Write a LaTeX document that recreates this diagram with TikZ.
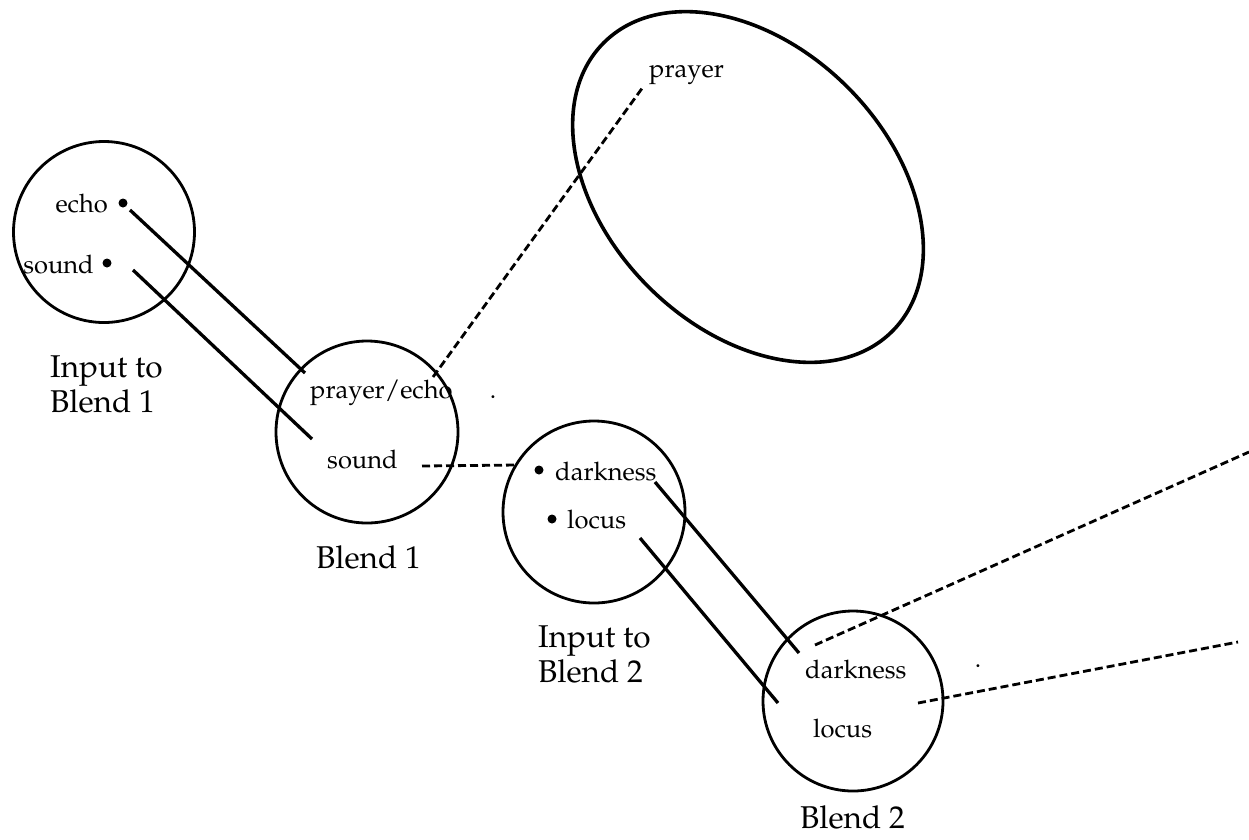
\documentclass[tikz,border=0pt]{standalone}
\usepackage[T1]{fontenc}
\usepackage{mathpazo}
\begin{document}
\begin{tikzpicture}[x=1pt,y=-1pt,
  circ/.style={draw, circle, line width=2.8pt, minimum size=#1, inner sep=0pt},
  small/.style={font=\fontsize{25.5}{30}\selectfont, inner sep=0pt},
  big/.style={font=\fontsize{31.5}{35}\selectfont, inner sep=0pt, align=left},
  link/.style={line width=3.3pt},
  dlink/.style={line width=2.8pt, dash pattern=on 8pt off 4pt},
  pt/.style={circle, fill, inner sep=0pt, minimum size=9pt}]
\useasboundingbox (0,0) rectangle (1249,839);

% Input to Blend 1
\node[circ=181] (in1) at (104,232) {};
\node[pt] (echodot) at (123,203) {};
\node[small, anchor=base east] (echo) at (108,212) {echo};
\node[pt] (sounddot) at (107,263) {};
\node[small, anchor=base east] (sound1) at (94,273) {sound};
\node[big, anchor=base west] (lin1) at (50,412) {Input to\\Blend 1};

% Blend 1
\node[circ=182] (bl1) at (367,432) {};
\node[small, anchor=base west] (pe) at (310,398) {prayer/echo};
\node[small, anchor=base west] (sound2) at (327,468) {sound};
\node[small, anchor=base] (dota) at (493,398) {.};
\node[big, anchor=base west] (lbl1) at (316,568) {Blend 1};

% large ellipse
\draw[line width=3.6pt, rotate around={-45:(748,187)}] (748,187) ellipse [x radius=204, y radius=141];
\node[small, anchor=base west] (prayer) at (649,77) {prayer};

% Input to Blend 2
\node[circ=182] (in2) at (594,512) {};
\node[pt] (ddot) at (539,470) {};
\node[small, anchor=base west] (dark1) at (555,480) {darkness};
\node[pt] (ldot) at (552,519) {};
\node[small, anchor=base west] (locus1) at (567,528) {locus};
\node[big, anchor=base west] (lin2) at (538,682) {Input to\\Blend 2};

% Blend 2
\node[circ=180] (bl2) at (853,701) {};
\node[small, anchor=base west] (dark2) at (805,678) {darkness};
\node[small, anchor=base west] (locus2) at (813,737) {locus};
\node[small, anchor=base] (dotb) at (978,667) {.};
\node[big, anchor=base west] (lbl2) at (800,828) {Blend 2};

% connector ends
\coordinate (e1) at (130,210); \coordinate (e2) at (305,373);
\coordinate (s1) at (133,270); \coordinate (s2) at (312,439);
\coordinate (p1) at (433,377); \coordinate (p2) at (643,87);
\coordinate (d1) at (422,466); \coordinate (d2) at (517,465);
\coordinate (k1) at (655,482); \coordinate (k2) at (799,653);
\coordinate (l1) at (640,538); \coordinate (l2) at (778,703);
\coordinate (r1) at (815,645); \coordinate (r2) at (1249,452);
\coordinate (q1) at (918,703); \coordinate (q2) at (1238,642);

\draw[link] (e1) -- (e2);
\draw[link] (s1) -- (s2);
\draw[link] (k1) -- (k2);
\draw[link] (l1) -- (l2);
\draw[dlink] (p1) -- (p2);
\draw[dlink] (d1) -- (d2);
\draw[dlink] (r1) -- (r2);
\draw[dlink] (q1) -- (q2);
\end{tikzpicture}
\end{document}
